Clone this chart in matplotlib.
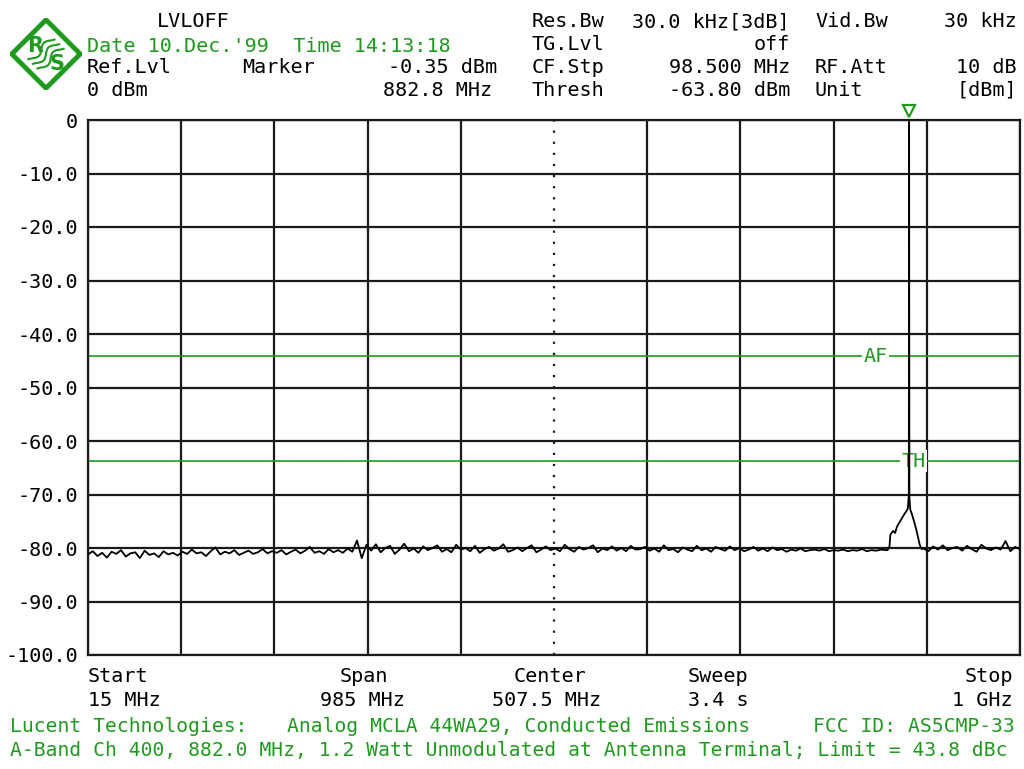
import numpy as np
import matplotlib
matplotlib.use("Agg")
import matplotlib.pyplot as plt
from matplotlib.patches import Polygon

# ---------------- data ----------------
start_mhz = 15.0
stop_mhz = 1000.0
ref_level_dbm = 0.0
y_levels = [0, -10, -20, -30, -40, -50, -60, -70, -80, -90, -100]
y_labels = ["0", "-10.0", "-20.0", "-30.0", "-40.0", "-50.0", "-60.0",
            "-70.0", "-80.0", "-90.0", "-100.0"]

marker_freq_mhz = 882.8
marker_level_dbm = -0.35
limit_line_dbm = -44.15      # AF line (marker - 43.8 dBc)
thresh_line_dbm = -63.8      # TH line

# noise floor below the carrier region (15 .. 858 MHz)
noise_lo_dbm = [
    -81.2, -80.6, -81.5, -80.9, -81.8, -80.7, -81.1, -80.4, -81.6, -81.0,
    -80.8, -81.9, -80.5, -81.3, -81.0, -81.7, -80.6, -81.2, -80.9, -81.4,
    -80.7, -81.1, -80.3, -81.0, -80.8, -81.5, -80.6, -79.9, -81.2, -80.7,
    -81.0, -80.4, -81.3, -80.9, -80.5, -81.1, -80.8, -80.2, -81.0, -80.6,
    -80.9, -80.4, -81.2, -80.7, -80.3, -81.0, -80.5, -79.8, -80.9, -80.6,
    -81.1, -80.2, -80.8, -80.4, -80.9, -80.1, -80.7, -78.6, -81.9, -79.4,
    -80.5, -79.3, -80.8, -80.0, -79.6, -81.1, -80.3, -79.2, -80.6, -80.1,
    -80.9, -79.7, -80.4, -80.0, -79.5, -80.7, -80.2, -80.8, -79.4, -80.3,
    -80.0, -80.6, -79.6, -80.9, -80.2, -79.8, -80.5, -80.1, -79.3, -80.7,
    -80.4, -79.9, -80.6, -80.0, -79.5, -80.8, -80.3, -79.7, -80.4, -80.1,
    -80.6, -79.4, -80.2, -80.7, -79.8, -80.3, -80.0, -79.5, -80.8, -80.1,
    -80.4, -79.7, -80.5, -80.0, -80.6, -79.6, -80.3, -80.2, -79.8, -80.5,
    -80.1, -80.7, -79.5, -80.4, -80.2, -80.8, -79.9, -80.3, -80.6, -79.6,
    -80.4, -80.1, -80.7, -79.8, -80.2, -80.5, -79.7, -80.4, -80.0, -80.6,
    -80.3, -79.8, -80.5, -80.1, -80.6, -79.9, -80.4, -80.2, -80.7, -80.3,
    -80.5, -80.1, -80.6, -80.4, -80.3, -80.5, -80.2, -80.6, -80.4, -80.5,
    -80.3, -80.6, -80.4, -80.5, -80.2, -80.6, -80.4, -80.5, -80.3, -80.4,
]
noise_lo_start_mhz = 15.0
noise_lo_stop_mhz = 858.0

# carrier and its skirt
carrier_freq_mhz = [860.0, 862.0, 863.0, 866.0, 868.0, 870.0, 872.0, 874.0,
                    876.0, 878.0, 880.0, 881.5, 882.5, 882.8, 883.1, 884.0,
                    886.0, 888.0, 890.0, 892.0, 894.0, 896.0]
carrier_dbm = [-80.4, -79.8, -77.5, -76.8, -77.2, -76.0, -75.4, -74.8,
               -74.2, -73.6, -73.1, -72.6, -70.0, -0.35, -70.5, -72.8,
               -73.8, -75.0, -76.3, -77.8, -79.4, -80.2]

# noise floor above the carrier (898 .. 1000 MHz)
noise_hi_dbm = [-80.1, -80.6, -79.7, -80.3, -79.5, -80.4, -80.0, -79.8,
                -80.5, -79.6, -80.2, -80.7, -79.4, -80.1, -80.4, -79.9,
                -80.3, -78.7, -80.6, -79.8, -80.2]
noise_hi_start_mhz = 898.0
noise_hi_stop_mhz = 1000.0

# ---------------- style ----------------
GREEN = "#1f9a1f"
GRID = "#1a1a1a"
MONO = ["DejaVu Sans Mono"]
FS = 14.5
FS_FOOT = 14.1

W, H = 1024, 769
fig = plt.figure(figsize=(W / 100, H / 100), dpi=100)
fig.patch.set_facecolor("white")


def fx(x):
    return x / W


def fy(y):
    return 1 - y / H


ax = fig.add_axes([fx(88), fy(655), 932 / W, 535 / H])
ax.set_xlim(start_mhz, stop_mhz)
ax.set_ylim(-100, ref_level_dbm)

# grid
div = (stop_mhz - start_mhz) / 10
for i in range(11):
    f = start_mhz + i * div
    if i == 5:
        ax.axvline(f, color=GRID, lw=1.6, ls=(0, (1, 4)), zorder=1)
    else:
        ax.axvline(f, color=GRID, lw=1.6, zorder=1)
for y in y_levels:
    ax.axhline(y, color=GRID, lw=1.6, zorder=1)
for s in ax.spines.values():
    s.set_linewidth(1.6)
    s.set_color(GRID)

ax.set_xticks([])
ax.set_yticks(y_levels)
ax.set_yticklabels(y_labels, family=MONO, fontsize=FS)
ax.tick_params(axis="y", length=0, pad=7)

# limit / threshold lines
ax.axhline(limit_line_dbm, color=GREEN, lw=1.2, zorder=2)
ax.axhline(thresh_line_dbm, color=GREEN, lw=1.2, zorder=2)
ax.text(847.5, limit_line_dbm, "AF", color=GREEN, family=MONO, fontsize=FS,
        ha="center", va="center", zorder=3,
        bbox=dict(facecolor="white", edgecolor="none", pad=1.0))
ax.text(887.5, thresh_line_dbm, "TH", color=GREEN, family=MONO, fontsize=FS,
        ha="center", va="center", zorder=3,
        bbox=dict(facecolor="white", edgecolor="none", pad=1.0))

# trace
f_lo = np.linspace(noise_lo_start_mhz, noise_lo_stop_mhz, len(noise_lo_dbm))
f_hi = np.linspace(noise_hi_start_mhz, noise_hi_stop_mhz, len(noise_hi_dbm))
freq = np.concatenate([f_lo, np.array(carrier_freq_mhz), f_hi])
lvl = np.concatenate([np.array(noise_lo_dbm), np.array(carrier_dbm),
                      np.array(noise_hi_dbm)])
ax.plot(freq, lvl, color="black", lw=1.3, zorder=4)

# marker triangle
ax.plot([marker_freq_mhz], [1.6], marker="v", ms=8, mfc="white",
        mec=GREEN, mew=1.6, clip_on=False, zorder=5)


# ---------------- header text ----------------
def t(x, y, s, ha="left", color="black", va="baseline", fs=FS):
    fig.text(fx(x), fy(y), s, ha=ha, va=va, color=color, family=MONO,
             fontsize=fs)


t(157, 27, "LVLOFF")
t(87, 52, "Date 10.Dec.'99  Time 14:13:18", color=GREEN)
t(87, 73, "Ref.Lvl")
t(242, 73, "Marker")
t(497, 73, "-0.35 dBm", ha="right")
t(87, 96, "0 dBm")
t(492, 96, "882.8 MHz", ha="right")

t(532, 27, "Res.Bw")
t(790, 27, "30.0 kHz[3dB]", ha="right")
t(815, 27, "Vid.Bw")
t(1017, 27, "30 kHz", ha="right")
t(532, 50, "TG.Lvl")
t(790, 50, "off", ha="right")
t(532, 73, "CF.Stp")
t(790, 73, "98.500 MHz", ha="right")
t(815, 73, "RF.Att")
t(1017, 73, "10 dB", ha="right")
t(532, 96, "Thresh")
t(790, 96, "-63.80 dBm", ha="right")
t(815, 96, "Unit")
t(1017, 96, "[dBm]", ha="right")

# bottom annotations
t(88, 682, "Start")
t(88, 706, "15 MHz")
t(364, 682, "Span", ha="center")
t(362, 706, "985 MHz", ha="center")
t(550, 682, "Center", ha="center")
t(547, 706, "507.5 MHz", ha="center")
t(718, 682, "Sweep", ha="center")
t(718, 706, "3.4 s", ha="center")
t(1013, 682, "Stop", ha="right")
t(1013, 706, "1 GHz", ha="right")

t(10, 732, "Lucent Technologies:", color=GREEN, fs=FS_FOOT)
t(287, 732, "Analog MCLA 44WA29, Conducted Emissions", color=GREEN,
  fs=FS_FOOT)
t(1015, 732, "FCC ID: AS5CMP-33", ha="right", color=GREEN, fs=FS_FOOT)
t(10, 756, "A-Band Ch 400, 882.0 MHz, 1.2 Watt Unmodulated at Antenna "
      "Terminal; Limit = 43.8 dBc", color=GREEN, fs=FS_FOOT)

# ---------------- logo ----------------
lax = fig.add_axes([fx(10), fy(90), 72 / W, 72 / H])
lax.set_xlim(-1, 1)
lax.set_ylim(-1, 1)
lax.axis("off")
lax.add_patch(Polygon([(0, 0.95), (0.95, 0), (0, -0.95), (-0.95, 0)],
                      closed=True, fill=False, ec=GREEN, lw=3.5))
lax.text(-0.3, 0.22, "R", color=GREEN, fontsize=15, fontweight="bold",
         ha="center", va="center", family="DejaVu Sans")
lax.text(0.3, -0.28, "S", color=GREEN, fontsize=15, fontweight="bold",
         ha="center", va="center", family="DejaVu Sans")
for off in (-0.18, 0.0, 0.18):
    u = np.linspace(-0.45, 0.45, 30)
    wv = 0.08 * np.sin(u * 9)
    xs = u * 0.707 - (wv + off) * 0.707
    ys = u * 0.707 + (wv + off) * 0.707
    lax.plot(xs, ys, color=GREEN, lw=1.5)

fig.savefig("out.png", dpi=100, facecolor="white")
